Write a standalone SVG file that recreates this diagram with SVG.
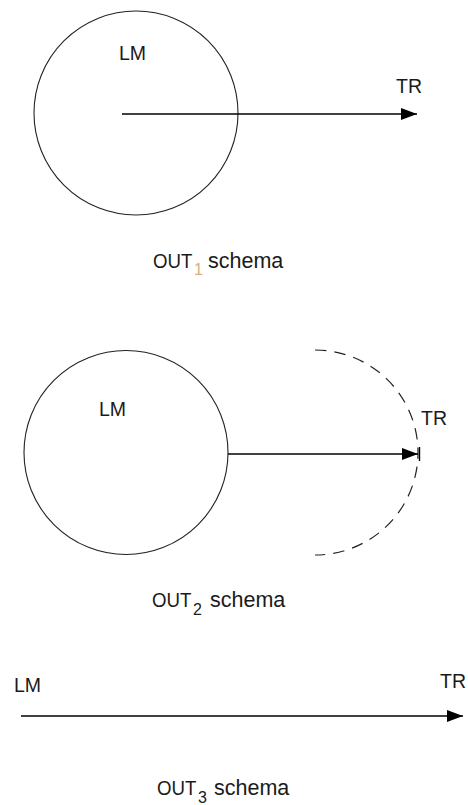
<svg xmlns="http://www.w3.org/2000/svg" width="468" height="805" viewBox="0 0 468 805">
<style>
.t{font-family:"Liberation Sans",Arial,sans-serif;font-size:19.5px;fill:#1a1a1a}
.o{font-family:"Liberation Sans",Arial,sans-serif;font-size:21px;fill:#1a1a1a}
.w{font-family:"Liberation Sans",Arial,sans-serif;font-size:21.5px;fill:#1a1a1a}
.s{font-family:"Liberation Sans",Arial,sans-serif;font-size:16px;fill:#1a1a1a}
.c{fill:none;stroke:#222;stroke-width:1.1}
.d{fill:none;stroke:#222;stroke-width:1.2;stroke-dasharray:11.5 8}
.a{fill:none;stroke:#000;stroke-width:1.4}
</style>
<defs>
<marker id="ah" viewBox="0 0 16 12" refX="16" refY="6" markerWidth="16" markerHeight="12" markerUnits="userSpaceOnUse" orient="auto">
<path d="M0,0 L16,6 L0,12 Z" fill="#000"/>
</marker>
</defs>
<rect width="468" height="805" fill="#fff"/>
<g id="out1">
<g id="lm1"><circle class="c" cx="136" cy="113" r="102"/><text class="t" x="119" y="60">LM</text></g>
<g id="tr1"><text class="t" x="396" y="93">TR</text></g>
<text class="o" transform="translate(153,268) scale(0.89,1)">OUT</text><text class="s" x="194" y="275" style="fill:#d8b07a">1</text><text class="w" x="208" y="268">schema</text>
</g>
<g id="out2">
<g id="lm2"><circle class="c" cx="126" cy="452.5" r="102"/><text class="t" x="99" y="416">LM</text></g>
<g id="tr2"><path class="d" d="M315,350 A103,102.5 0 0 1 315,555"/><text class="t" x="421" y="425">TR</text></g>
<text class="o" transform="translate(152,607) scale(0.89,1)">OUT</text><text class="s" x="193" y="615">2</text><text class="w" x="210" y="607">schema</text>
</g>
<g id="out3">
<g id="lm3"><text class="t" x="14" y="692">LM</text></g>
<g id="tr3"><text class="t" x="440" y="688">TR</text></g>
<text class="o" transform="translate(157,795) scale(0.89,1)">OUT</text><text class="s" x="198" y="803">3</text><text class="w" x="214" y="795">schema</text>
</g>
<g id="connectors">
<line class="a" x1="122" y1="114" x2="417" y2="114" marker-end="url(#ah)"/>
<line class="a" x1="228" y1="454" x2="418" y2="454" marker-end="url(#ah)"/>
<line class="a" x1="419.5" y1="447" x2="419.5" y2="461"/>
<line class="a" x1="21" y1="716" x2="463" y2="716" marker-end="url(#ah)"/>
</g>
</svg>
